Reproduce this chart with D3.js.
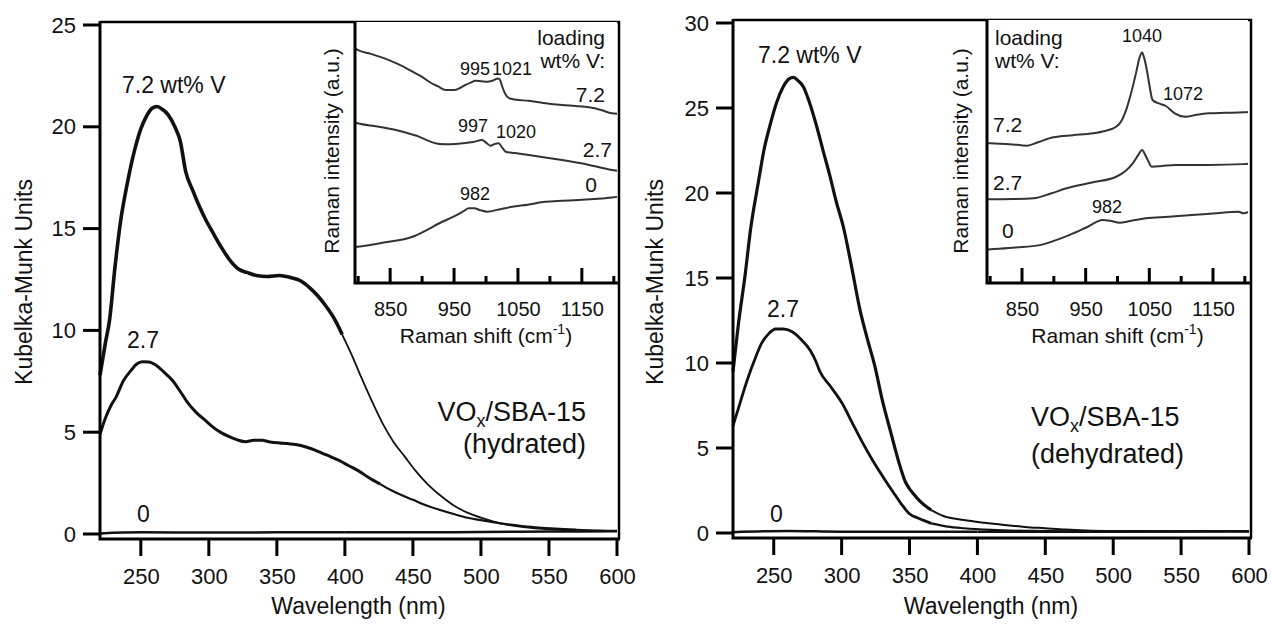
<!DOCTYPE html>
<html>
<head>
<meta charset="utf-8">
<script src="https://cdn.jsdelivr.net/npm/d3@7"></script>
<style>
  body { margin: 0; background: #fff; }
  svg text { font-family: "Liberation Sans", Arial, Helvetica, sans-serif; fill: #111; }
</style>
</head>
<body>
<svg id="chart" width="1271" height="626"></svg>
<script>
// ---- UV-vis (Kubelka-Munk) spectra, [wavelength nm, KM units] ----
const hyd72 = [[220,7.8],[224,9.4],[227,10.5],[231,13.1],[235,15.3],[240,17.2],[246,19.0],[250,19.9],[254,20.5],[258,20.9],[262,21.0],[266,20.85],[270,20.6],[275,20.0],[279,19.3],[283,17.8],[288,16.9],[293,16.1],[298,15.4],[303,14.8],[309,14.1],[316,13.4],[322,13.0],[328,12.85],[335,12.7],[343,12.65],[352,12.7],[360,12.6],[367,12.45],[374,12.1],[380,11.7],[386,11.2],[392,10.6],[398,9.8],[405,8.8],[412,7.7],[420,6.5],[428,5.4],[436,4.5],[444,3.8],[452,3.1],[460,2.5],[470,1.9],[480,1.4],[490,1.05],[500,0.8],[510,0.6],[520,0.45],[530,0.35],[540,0.28],[555,0.22],[570,0.18],[585,0.16],[600,0.15]];
const hyd27 = [[220,4.9],[224,5.7],[228,6.3],[232,6.75],[237,7.5],[243,8.05],[247,8.35],[251,8.46],[256,8.45],[261,8.3],[267,7.95],[273,7.56],[279,7.0],[285,6.4],[291,5.95],[297,5.6],[303,5.25],[309,4.98],[315,4.78],[321,4.62],[327,4.53],[333,4.6],[339,4.6],[345,4.52],[352,4.47],[358,4.44],[365,4.38],[372,4.26],[378,4.12],[384,3.95],[390,3.78],[396,3.6],[403,3.35],[410,3.1],[418,2.75],[426,2.45],[434,2.15],[442,1.9],[450,1.68],[460,1.4],[470,1.18],[480,0.98],[490,0.8],[500,0.68],[510,0.57],[520,0.47],[530,0.39],[540,0.33],[555,0.26],[570,0.21],[585,0.17],[600,0.15]];
const hyd0 = [[220,0.03],[250,0.08],[300,0.07],[350,0.08],[400,0.09],[450,0.08],[500,0.1],[550,0.12],[600,0.13]];

const dehyd72 = [[220,9.5],[224,12.3],[228.8,15.1],[233,17.9],[238.6,20.6],[243,22.6],[247,23.9],[252,25.3],[257,26.25],[261,26.7],[264.5,26.8],[268,26.6],[271.8,26.25],[276,25.4],[281.7,23.9],[286,22.6],[291.5,20.96],[296,19.5],[301.3,18.0],[307,15.8],[313.6,13.1],[319,11.4],[324.5,9.8],[330,7.8],[336.4,5.86],[342,4.2],[347,3.0],[350,2.6],[353,2.3],[358,1.85],[366,1.35],[375,1.0],[390,0.76],[405,0.6],[420,0.47],[435,0.36],[450,0.28],[465,0.2],[480,0.15],[500,0.12],[550,0.1],[600,0.1]];
const dehyd27 = [[220,6.3],[225,7.6],[230.5,9.0],[236,10.2],[241,11.15],[246,11.7],[251.4,12.0],[257,12.0],[263.3,11.85],[270,11.4],[276.7,10.76],[281,10.1],[284,9.5],[292,8.6],[300.6,7.6],[308,6.45],[315.5,5.3],[323,4.25],[330.5,3.3],[338,2.4],[344,1.7],[349.7,1.15],[357,0.85],[366,0.57],[378,0.38],[390,0.28],[410,0.18],[440,0.12],[480,0.1],[540,0.1],[600,0.1]];
const dehyd0 = [[220,0.05],[260,0.12],[300,0.08],[400,0.08],[500,0.08],[600,0.1]];

// ---- Raman insets, [shift cm-1, intensity a.u.] ----
const ramHyd72 = [[795,90],[799,89.3],[820,87.8],[848,85.4],[870,83],[885,81],[900,79],[911,77.1],[925,75.3],[937,73.9],[950,73.9],[960,74.8],[968,75.9],[976,76.8],[984,77.5],[993,77.3],[1002,77.1],[1010,77.5],[1019,78.4],[1022,77.8],[1025.5,75.2],[1030,72.5],[1036,70.8],[1045,70.3],[1067,69.8],[1090,69],[1119,68.2],[1140,67.8],[1161,67.3],[1180,66.3],[1197,65],[1205,64.8]];
const ramHyd27 = [[795,61.5],[799,61.2],[830,60],[859,58.6],[890,56.5],[927,53.3],[945,53.2],[963,53.5],[980,54],[994,54.8],[1000,53.8],[1007,52.6],[1013,53.2],[1020,53.5],[1025,52],[1031,50.3],[1045,49.8],[1067,49],[1090,48.2],[1119,47.1],[1160,45.3],[1197,43.3],[1205,43]];
const ramHyd0 = [[795,13.8],[799,13.9],[840,15.5],[885,17.7],[905,20],[927,22.9],[950,25.5],[965,27.5],[973,28.6],[982,28.6],[990,28],[1002,27.3],[1020,28.2],[1041,29.2],[1065,30],[1093,31.1],[1120,31.5],[1145,31.8],[1170,32.2],[1187,32.5],[1197,32.8],[1205,33]];

const ramDehyd72 = [[795,53.2],[800.6,53.1],[830,52.8],[857.8,52.2],[875,53.5],[899,55.4],[930,56.2],[961.5,56.9],[980,57.8],[998,59.4],[1007,62],[1013.6,65.8],[1020,71],[1029,79.7],[1035,86],[1038.5,87.6],[1042,85.5],[1047,79.7],[1051,74],[1055,69.6],[1065,68.3],[1076,67.3],[1090,64.5],[1107,63.2],[1125,64],[1143,64.5],[1170,64.7],[1198,64.9],[1205,65]];
const ramDehyd27 = [[795,31.8],[800.6,31.8],[835,31.9],[868,32.2],[895,34],[920,36],[960,38.2],[998,40.4],[1012,42.5],[1024,45.5],[1033,48.8],[1038.5,50.6],[1044,48.5],[1049,46],[1054,44.2],[1070,44.5],[1091,44.9],[1143,44.9],[1198,45.2],[1205,45.3]];
const ramDehyd0 = [[795,12.7],[800.6,12.8],[840,13.5],[878,14.4],[900,16],[925,18.3],[950,21],[977,24],[990,23.6],[1003,22.9],[1020,23.6],[1044.7,24.6],[1080,25.2],[1117,25.9],[1150,26.4],[1190,27.1],[1198,26.5],[1205,27]];

// ---- ticks ----
const wlTicks = [250, 300, 350, 400, 450, 500, 550, 600];
const kmTicksHyd = [0, 5, 10, 15, 20, 25];
const kmTicksDehyd = [0, 5, 10, 15, 20, 25, 30];
const ramanMajor = [850, 950, 1050, 1150];
const ramanMinor = [800, 900, 1000, 1100, 1200];

const svg = d3.select('#chart');

function label(g, x, y, txt, size, anchor) {
    return g.append('text')
        .attr('x', x).attr('y', y)
        .attr('text-anchor', anchor || 'start')
        .style('font-size', size + 'px')
        .text(txt);
}

// d3 axis used for the labels only; the tick marks are drawn as plain lines
function axisLabels(a, size) {
    a.select('.domain').remove();
    a.selectAll('.tick line').remove();
    a.selectAll('.tick text')
        .style('font-size', size + 'px')
        .style('fill', '#111')
        .style('font-family', '"Liberation Sans", Arial, sans-serif');
}

function vTicks(g, x, values, y1, y2) {
    g.selectAll(null).data(values).join('line')
        .attr('x1', d => x(d)).attr('x2', d => x(d))
        .attr('y1', y1).attr('y2', y2)
        .attr('stroke', '#000').attr('stroke-width', 3);
}

function mainPanel(p) {
    const g = svg.append('g');
    const x = d3.scaleLinear().domain([220, 600]).range([p.left, p.right]);
    const y = d3.scaleLinear().domain([0, p.yMax]).range([p.zeroY, p.maxY]);

    const line = d3.line()
        .x(d => x(d[0]))
        .y(d => y(d[1]))
        .curve(d3.curveMonotoneX);

    // curves: thick head, thinner tail where the noise is gone
    p.series.forEach(s => {
        const i = s.data.findIndex(d => d[0] >= s.cut);
        g.append('path').datum(s.data.slice(0, i + 1))
            .attr('d', line).attr('fill', 'none')
            .attr('stroke', '#111').attr('stroke-width', s.w1)
            .attr('stroke-linejoin', 'round');
        g.append('path').datum(s.data.slice(i))
            .attr('d', line).attr('fill', 'none')
            .attr('stroke', '#111').attr('stroke-width', s.w2)
            .attr('stroke-linejoin', 'round');
    });

    // frame
    g.append('path')
        .attr('d', `M${p.left},${p.top}H${p.frameRight}V${p.bottom}`)
        .attr('fill', 'none').attr('stroke', '#000').attr('stroke-width', 2.5);
    g.append('path')
        .attr('d', `M${p.left},${p.top - 1}V${p.bottom}H${p.frameRight + 1}`)
        .attr('fill', 'none').attr('stroke', '#000').attr('stroke-width', 3);

    // ticks
    g.selectAll(null).data(p.yTicks).join('line')
        .attr('x1', p.left - 17).attr('x2', p.left)
        .attr('y1', d => y(d)).attr('y2', d => y(d))
        .attr('stroke', '#000').attr('stroke-width', 3);
    vTicks(g, x, wlTicks, p.bottom, p.bottom + 17);

    const yAxis = g.append('g')
        .attr('transform', `translate(${p.left},0)`)
        .call(d3.axisLeft(y).tickValues(p.yTicks).tickSize(17).tickPadding(7).tickFormat(d3.format('d')));
    const xAxis = g.append('g')
        .attr('transform', `translate(0,${p.bottom})`)
        .call(d3.axisBottom(x).tickValues(wlTicks).tickSize(17).tickPadding(12).tickFormat(d3.format('d')));
    axisLabels(yAxis, 22);
    axisLabels(xAxis, 22);

    g.append('text')
        .attr('x', (p.left + p.right) / 2).attr('y', 614)
        .attr('text-anchor', 'middle').style('font-size', '23px')
        .text('Wavelength (nm)');
    g.append('text')
        .attr('transform', `translate(${p.yTitleX},282) rotate(-90)`)
        .attr('text-anchor', 'middle').style('font-size', '23px')
        .text('Kubelka-Munk Units');

    p.labels.forEach(l => label(g, l[0], l[1], l[2], 23, l[3]));

    // sample name
    const t1 = g.append('text')
        .attr('x', p.name.x).attr('y', p.name.y1)
        .attr('text-anchor', p.name.anchor).style('font-size', '27px');
    t1.append('tspan').text('VO');
    t1.append('tspan').attr('dy', 6).style('font-size', '18px').text('x');
    t1.append('tspan').attr('dy', -6).text('/SBA-15');
    label(g, p.name.x, p.name.y2, p.name.state, 27, p.name.anchor);

    insetPanel(p.inset);
}

function insetPanel(q) {
    const g = svg.append('g');
    const x = d3.scaleLinear().domain([795, 1205]).range([q.left, q.right]);
    const y = d3.scaleLinear().domain([0, 100]).range([q.bottom, q.top]);

    g.append('rect')
        .attr('x', q.left).attr('y', q.top)
        .attr('width', q.right - q.left).attr('height', q.bottom - q.top)
        .attr('fill', '#fff');

    const line = d3.line()
        .x(d => x(d[0]))
        .y(d => y(d[1]))
        .curve(d3.curveMonotoneX);
    q.series.forEach(s => {
        g.append('path').datum(s)
            .attr('d', line).attr('fill', 'none')
            .attr('stroke', '#333').attr('stroke-width', 2);
    });

    g.append('path')
        .attr('d', `M${q.left},${q.top}V${q.bottom}H${q.right + 2}`)
        .attr('fill', 'none').attr('stroke', '#000').attr('stroke-width', 3);

    // inward ticks, long at labelled values, short in between
    vTicks(g, x, ramanMajor, q.bottom, q.bottom - 15);
    vTicks(g, x, ramanMinor, q.bottom, q.bottom - 7);

    const major = g.append('g')
        .attr('transform', `translate(0,${q.bottom})`)
        .call(d3.axisBottom(x).tickValues(ramanMajor).tickSize(0).tickPadding(19).tickFormat(d3.format('d')));
    axisLabels(major, 20);

    const xt = g.append('text')
        .attr('x', (q.left + q.right) / 2).attr('y', 343)
        .attr('text-anchor', 'middle').style('font-size', '21px');
    xt.append('tspan').text('Raman shift (cm');
    xt.append('tspan').attr('dy', -9).style('font-size', '14px').text('-1');
    xt.append('tspan').attr('dy', 9).text(')');

    g.append('text')
        .attr('transform', `translate(${q.yTitleX},151) rotate(-90)`)
        .attr('text-anchor', 'middle').style('font-size', '21px')
        .text('Raman intensity (a.u.)');

    q.labels.forEach(l => label(g, l[0], l[1], l[2], l[3], l[4]));
}

mainPanel({
    left: 100, right: 617, frameRight: 619, top: 22, bottom: 539,
    yMax: 25, zeroY: 534, maxY: 25, yTicks: kmTicksHyd, yTitleX: 32,
    series: [
        { data: hyd72, cut: 395, w1: 3.6, w2: 1.8 },
        { data: hyd27, cut: 420, w1: 3, w2: 2.2 },
        { data: hyd0, cut: 400, w1: 2.5, w2: 2.5 }
    ],
    labels: [[122, 93, '7.2 wt% V'], [127, 348, '2.7'], [137, 522, '0']],
    name: { x: 586, y1: 421, y2: 453, anchor: 'end', state: '(hydrated)' },
    inset: {
        left: 355, right: 617, top: 22, bottom: 283, yTitleX: 339,
        series: [ramHyd72, ramHyd27, ramHyd0],
        labels: [
            [605, 45, 'loading', 21, 'end'], [605, 68, 'wt% V:', 21, 'end'],
            [475, 75, '995', 18, 'middle'], [512, 75, '1021', 18, 'middle'],
            [605, 102, '7.2', 21, 'end'],
            [473, 132, '997', 18, 'middle'], [516, 138, '1020', 18, 'middle'],
            [612, 157, '2.7', 21, 'end'],
            [475, 200, '982', 18, 'middle'], [597, 192, '0', 21, 'end']
        ]
    }
});

mainPanel({
    left: 733, right: 1249, frameRight: 1251, top: 20, bottom: 538,
    yMax: 30, zeroY: 533, maxY: 23, yTicks: kmTicksDehyd, yTitleX: 663,
    series: [
        { data: dehyd72, cut: 360, w1: 3.2, w2: 2 },
        { data: dehyd27, cut: 360, w1: 2.8, w2: 2.2 },
        { data: dehyd0, cut: 400, w1: 2.5, w2: 2.5 }
    ],
    labels: [[758, 63, '7.2 wt% V'], [767, 317, '2.7'], [770, 522, '0']],
    name: { x: 1031, y1: 426, y2: 463, anchor: 'start', state: '(dehydrated)' },
    inset: {
        left: 987, right: 1248, top: 20, bottom: 283, yTitleX: 968,
        series: [ramDehyd72, ramDehyd27, ramDehyd0],
        labels: [
            [995, 45, 'loading', 21, 'start'], [995, 68, 'wt% V:', 21, 'start'],
            [1142, 42, '1040', 18, 'middle'], [1183, 100, '1072', 18, 'middle'],
            [993, 132, '7.2', 21, 'start'], [993, 190, '2.7', 21, 'start'],
            [1107, 213, '982', 18, 'middle'], [1002, 238, '0', 21, 'start']
        ]
    }
});
</script>
</body>
</html>
